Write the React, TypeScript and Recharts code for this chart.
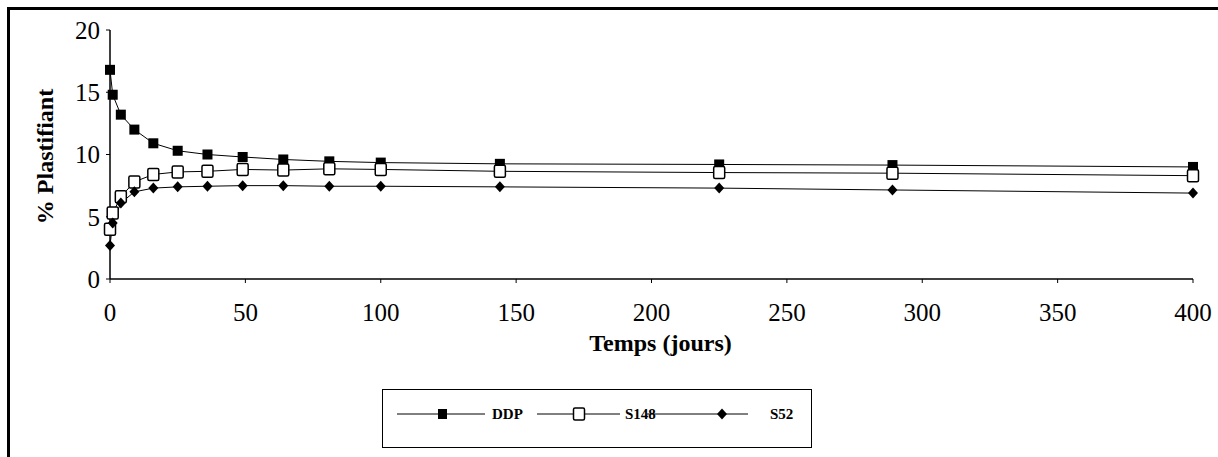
import React from "react";
import { LineChart, Line, XAxis, YAxis, Legend, Label } from "recharts";

// temps en jours (racine carrée régulière), % plastifiant
const jours = [0, 1, 4, 9, 16, 25, 36, 49, 64, 81, 100, 144, 225, 289, 400];
const ddp = [16.8, 14.8, 13.2, 12.0, 10.9, 10.3, 10.0, 9.8, 9.6, 9.45, 9.35, 9.25, 9.2, 9.15, 9.0];
const s148 = [4.0, 5.3, 6.6, 7.8, 8.4, 8.6, 8.65, 8.8, 8.75, 8.85, 8.8, 8.65, 8.55, 8.5, 8.3];
const s52 = [2.7, 4.5, 6.1, 7.0, 7.3, 7.4, 7.45, 7.5, 7.5, 7.45, 7.45, 7.4, 7.3, 7.15, 6.9];

const xTicks = [0, 50, 100, 150, 200, 250, 300, 350, 400];
const yTicks = [0, 5, 10, 15, 20];

const data = jours.map((j, i) => ({ jours: j, DDP: ddp[i], S148: s148[i], S52: s52[i] }));

const FONT = "Liberation Serif";

function FilledSquare(props: any) {
  const { cx, cy } = props;
  if (cx == null || cy == null) return <g key={props.key} />;
  return <rect key={props.key} x={cx - 5} y={cy - 5} width={10} height={10} fill="#000" />;
}

function OpenSquare(props: any) {
  const { cx, cy } = props;
  if (cx == null || cy == null) return <g key={props.key} />;
  return (
    <rect key={props.key} x={cx - 5.5} y={cy - 6} width={11} height={12} rx={1.5}
      fill="#fff" stroke="#000" strokeWidth={1.5} />
  );
}

function Diamond(props: any) {
  const { cx, cy } = props;
  if (cx == null || cy == null) return <g key={props.key} />;
  return (
    <path key={props.key} d={`M${cx},${cy - 5.5} L${cx + 5},${cy} L${cx},${cy + 5.5} L${cx - 5},${cy} Z`} fill="#000" />
  );
}

function LegendBox() {
  const ty = 25;
  return (
    <svg width={430} height={59} style={{ display: "block" }}>
      <rect x={0.5} y={0.5} width={429} height={58} fill="#fff" stroke="#000" strokeWidth={1} />
      <line x1={15} x2={103} y1={ty} y2={ty} stroke="#000" />
      <rect x={56} y={ty - 5} width={9} height={10} fill="#000" />
      <text x={110} y={ty + 5} fontFamily={FONT} fontSize={15} fontWeight={700} fill="#000">DDP</text>
      <line x1={155} x2={238} y1={ty} y2={ty} stroke="#000" />
      <rect x={191.5} y={ty - 6} width={11} height={12} rx={1.5} fill="#fff" stroke="#000" strokeWidth={1.5} />
      <text x={243} y={ty + 5} fontFamily={FONT} fontSize={15} fontWeight={700} fill="#000">S148</text>
      <line x1={265} x2={366} y1={ty} y2={ty} stroke="#000" />
      <path d={`M340,${ty - 5.5} L345,${ty} L340,${ty + 5.5} L335,${ty} Z`} fill="#000" />
      <text x={388} y={ty + 5} fontFamily={FONT} fontSize={15} fontWeight={700} fill="#000">S52</text>
    </svg>
  );
}

export default function App() {
  return (
    <div style={{ position: "absolute", left: 0, top: 0, width: 1218, height: 457, background: "#fff" }}>
      <div style={{ position: "absolute", left: 7, top: 7, right: 0, bottom: 0, borderTop: "3px solid #000", borderLeft: "3px solid #000" }} />
      <LineChart width={1218} height={457} data={data} margin={{ top: 30, right: 25, bottom: 9, left: 0 }}>
        <XAxis
          dataKey="jours"
          type="number"
          domain={[0, 400]}
          ticks={xTicks}
          height={110}
          tickSize={4}
          tickMargin={20}
          axisLine={{ stroke: "#000", strokeWidth: 1.5 }}
          tickLine={{ stroke: "#000" }}
          tick={{ fill: "#000", fontSize: 25, fontFamily: FONT }}
        >
          <Label value="Temps (jours)" position="center" dx={9} dy={8}
            fontFamily={FONT} fontSize={24} fontWeight={700} fill="#000" />
        </XAxis>
        <YAxis
          type="number"
          domain={[0, 20]}
          ticks={yTicks}
          width={110}
          tickSize={4}
          tickMargin={6}
          axisLine={{ stroke: "#000", strokeWidth: 1.5 }}
          tickLine={{ stroke: "#000" }}
          tick={{ fill: "#000", fontSize: 25, fontFamily: FONT }}
        >
          <Label value="% Plastifiant" angle={-90} position="center" dx={-11} dy={2}
            fontFamily={FONT} fontSize={24} fontWeight={700} fill="#000" />
        </YAxis>
        <Legend
          verticalAlign="bottom"
          align="left"
          width={430}
          height={59}
          wrapperStyle={{ left: 382, bottom: 9 }}
          content={<LegendBox />}
        />
        <Line dataKey="DDP" stroke="#000" strokeWidth={1} dot={FilledSquare} activeDot={false} isAnimationActive={false} />
        <Line dataKey="S148" stroke="#000" strokeWidth={1} dot={OpenSquare} activeDot={false} isAnimationActive={false} />
        <Line dataKey="S52" stroke="#000" strokeWidth={1} dot={Diamond} activeDot={false} isAnimationActive={false} />
      </LineChart>
    </div>
  );
}
